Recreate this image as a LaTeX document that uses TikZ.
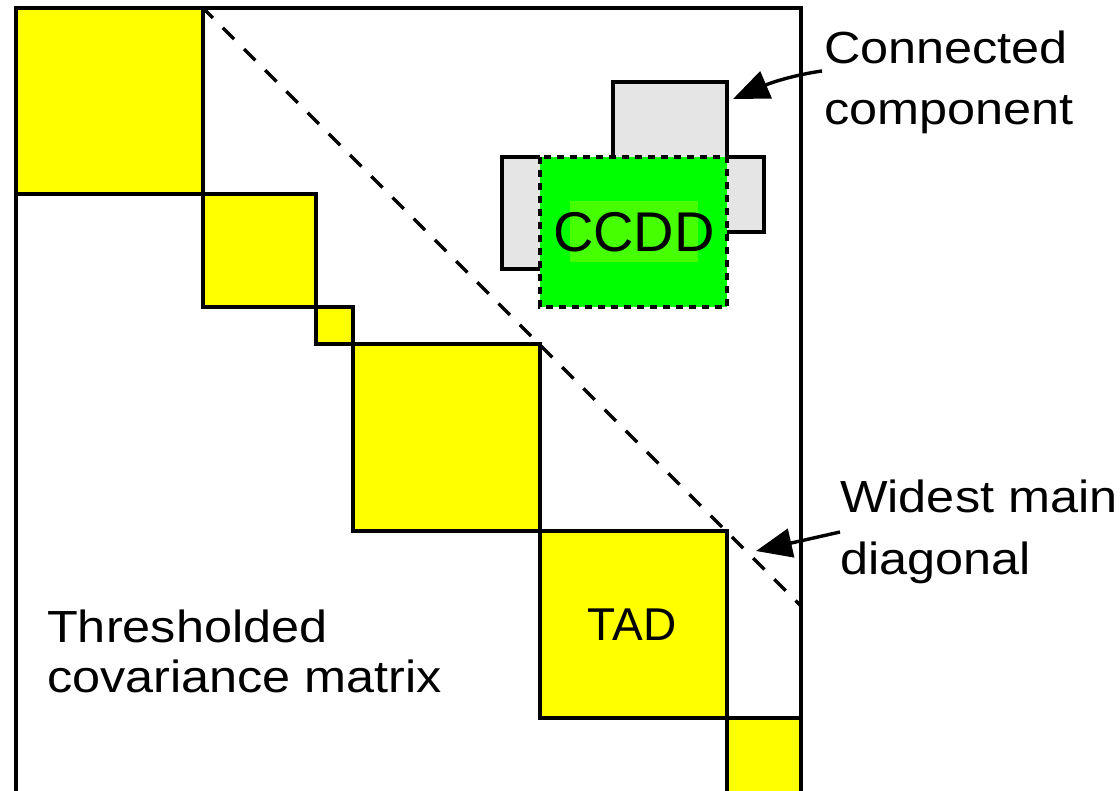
\documentclass[tikz,border=0pt]{standalone}
\usepackage{fontspec}
\setmainfont{Liberation Sans}
\newfontfamily\lblfont[FakeStretch=1.12]{Liberation Sans}
\usetikzlibrary{arrows.meta,calc}
\definecolor{tadyellow}{RGB}{255,255,0}
\definecolor{ccgreen}{RGB}{0,255,0}
\definecolor{ccgreenlt}{RGB}{70,255,0}
\definecolor{ccgray}{RGB}{229,229,229}
\begin{document}
\begin{tikzpicture}[x=1pt,y=-1pt,
  edge/.style={line width=3.4pt,line join=miter},
  tadbox/.style={fill=tadyellow,draw=black,line width=3.4pt},
  lbl/.style={font=\lblfont\fontsize{45}{50}\selectfont,anchor=base west,inner sep=0pt},
  boxtext/.style={anchor=base,inner sep=0pt},
  pointer/.style={line width=3.4pt,-{Triangle[length=36pt,width=29pt]}},
  diagline/.style={line width=3.4pt,dash pattern=on 16pt off 14pt,dash phase=2pt},
  ccborder/.style={line width=3.6pt,dash pattern=on 7pt off 6pt},
]
\useasboundingbox (0,0) rectangle (1120,791);
\clip (0,0) rectangle (1120,791);
\fill[white] (0,0) rectangle (1120,791);

% thresholded matrix frame
\draw[edge] (16,810) -- (16,8) -- (801,8) -- (801,810);

% TADs on the diagonal
\draw[tadbox] (16,8) rectangle (203,194);
\draw[tadbox] (203,194) rectangle (316,307);
\draw[tadbox] (316,307) rectangle (353,344);
\draw[tadbox] (353,344) rectangle (540,531);
\draw[tadbox] (540,531) rectangle (727,718);
\draw[tadbox] (727,718) rectangle (801,810);

% widest main diagonal
\draw[diagline] (203,8) -- (801,606);

% connected component
\fill[ccgray] (613,82) rectangle (727,157);
\fill[ccgray] (502,157) rectangle (540,269);
\fill[ccgray] (727,157) rectangle (764,232);
\fill[ccgreen] (540,157) rectangle (727,307);
\fill[ccgreenlt] (570,201) rectangle (698,262);
\draw[edge] (613,157) -- (613,82) -- (727,82) -- (727,157);
\draw[edge] (540,157) -- (502,157) -- (502,269) -- (540,269);
\draw[edge] (727,157) -- (764,157) -- (764,232) -- (727,232);
\draw[ccborder] (540,157) rectangle (727,307);

% texts
\node[boxtext,font=\fontsize{56}{60}\selectfont] (ccdd) at (634,252) {CCDD};
\node[boxtext,font=\fontsize{46}{50}\selectfont] (tad) at (632,640) {TAD};
\node[lbl] (cc1) at (824,64) {Connected};
\node[lbl] (cc2) at (824,125) {component};
\node[lbl] (wd1) at (840,513) {Widest main};
\node[lbl] (wd2) at (840,574) {diagonal};
\node[lbl] (th1) at (47,642) {Thresholded};
\node[lbl] (th2) at (47,692) {covariance matrix};

% pointers
\coordinate (cctip) at (733,99);
\coordinate (wdtip) at (756,551);
\draw[pointer] ($(cc1.base west)+(-2,7)$) .. controls (800,74) and (775,81) .. (cctip);
\draw[pointer] ($(wd1.base west)+(0,19)$) -- (wdtip);
\end{tikzpicture}
\end{document}
